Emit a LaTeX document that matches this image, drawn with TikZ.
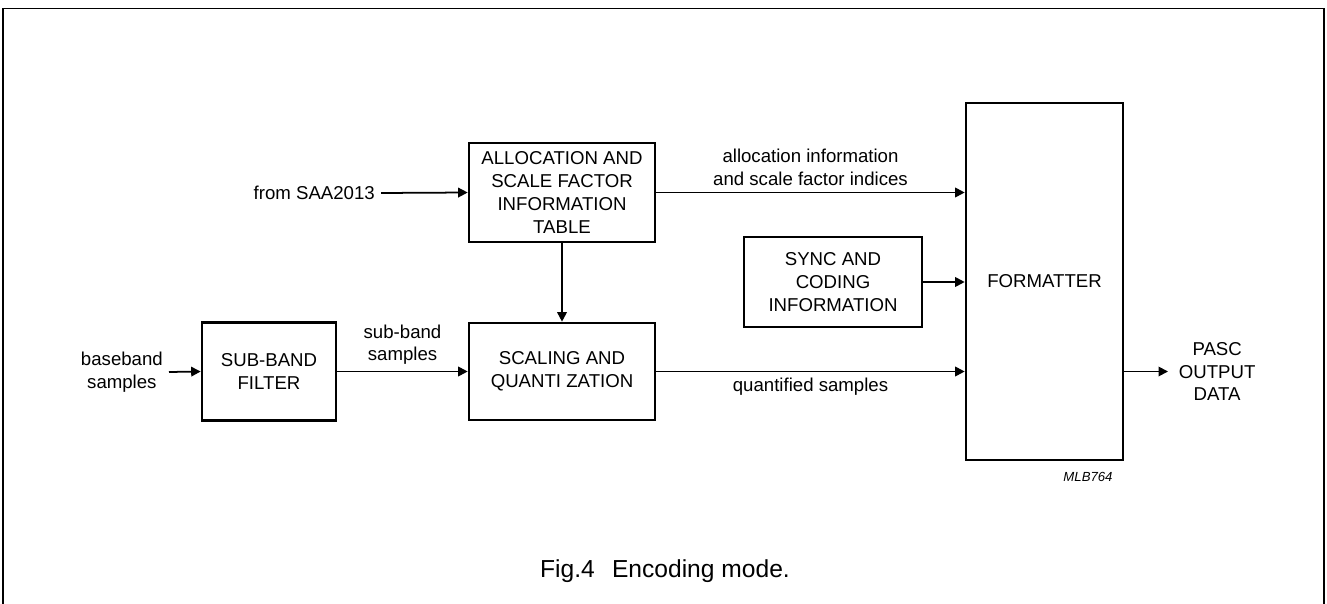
\documentclass[tikz,border=0pt]{standalone}
\usepackage{fontspec}
\setmainfont{Liberation Sans}
\usetikzlibrary{positioning}
\usetikzlibrary{arrows.meta}

\tikzset{
  block/.style={draw, line width=1.5pt, align=center, inner sep=0pt, font=\fontsize{10.6}{13}\selectfont},
  lbl/.style={align=center, font=\fontsize{10.6}{13}\selectfont},
  conn/.style={line width=1pt, -{Triangle[length=1.9mm,width=1.9mm]}},
}

\begin{document}
\begin{tikzpicture}[x=0.02cm,y=-0.02cm]
\useasboundingbox (0,0) rectangle (1327,604);
% frame, open at the bottom
\draw[line width=1pt] (3,604) -- (3,8.5) -- (1324,8.5) -- (1324,604);

% blocks
\node[block, minimum width=3.72cm, minimum height=1.98cm] (alloc) at (562,192.5) {ALLOCATION AND\\SCALE FACTOR\\INFORMATION\\TABLE};
\node[block, minimum width=3.72cm, minimum height=1.94cm] (scal) at (562,371.5) {SCALING AND\\QUANTI ZATION};
\node[block, minimum width=2.68cm, minimum height=1.96cm] (filt) at (269,371.5) {SUB-BAND\\FILTER};
\node[block, minimum width=3.56cm, minimum height=1.80cm] (sync) at (833,282) {SYNC AND\\CODING\\INFORMATION};
\node[block, minimum width=3.14cm, minimum height=7.14cm] (fmt) at (1044.5,281.5) {FORMATTER};

% inputs and output
\node[lbl, anchor=east] (saa) at (381,193) {from SAA2013};
\node[lbl, anchor=east] (base) at (169,372) {baseband\\samples};
\node[lbl, anchor=west, inner xsep=6pt] (pasc) at (1168,371.5) {PASC\\OUTPUT\\DATA};

% connectors
\draw[conn] (saa.east) -- (alloc.west);
\draw[conn] (base.east) -- (filt.west);
\draw[conn] (alloc.south) -- (scal.north);
\draw[conn] (filt.east) -- (scal.west) node[lbl, midway, above] {sub-band\\samples};
\draw[conn] (alloc.east) -- (alloc.east -| fmt.west) node[lbl, midway, above] {allocation information\\and scale factor indices};
\draw[conn] (sync.east) -- (sync.east -| fmt.west);
\draw[conn] (scal.east) -- (scal.east -| fmt.west) node[lbl, midway, below] {quantified samples};
\draw[conn] (pasc.west -| fmt.east) -- (pasc.west);

\node[font=\fontsize{7.5}{9}\selectfont\itshape] (code) at (1088,477) {MLB764};
\node[font=\fontsize{14}{16}\selectfont, anchor=base] (cap) at (665,577) {Fig.4\hspace{0.7em}Encoding mode.};

\end{tikzpicture}
\end{document}
